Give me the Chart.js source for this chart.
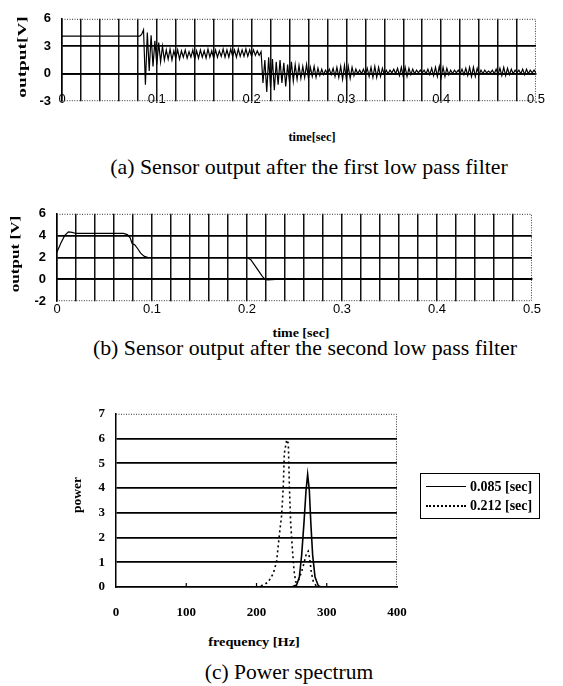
<!DOCTYPE html>
<html>
<head>
<meta charset="utf-8">
<script src="https://cdn.jsdelivr.net/npm/chart.js@4.4.1/dist/chart.umd.min.js"></script>
<style>
  body { margin: 0; background: #fff; }
  #page { position: relative; width: 563px; height: 686px; overflow: hidden; font-family: "Liberation Serif", "Times New Roman", serif; color: #000; }
  canvas { position: absolute; left: 0; }
  .lbl { position: absolute; white-space: nowrap; transform: translate(-50%, -50%); line-height: 1; z-index: 2; }
  .axt { font-weight: bold; font-size: 12px; }
  .cap { font-size: 21px; }
  #legende { position: absolute; left: 420px; top: 473px; width: 118px; border: 1px solid #000; padding: 3px 0; z-index: 2; }
  .ligne { display: flex; align-items: center; height: 19px; font-weight: bold; font-size: 14px; }
  .trait { width: 40px; margin: 0 4px 0 5px; border-top: 1.5px solid #000; }
  .trait.pointille { border-top: 2px dotted #000; }
</style>
</head>
<body>
<div id="page">
  <canvas id="graphA" width="563" height="120" style="top:0px"></canvas>
  <canvas id="graphB" width="563" height="125" style="top:195px"></canvas>
  <canvas id="graphC" width="563" height="230" style="top:395px"></canvas>

  <div class="lbl axt vert" style="left:22px; top:57px" data-w="82">output[V]</div>
  <div class="lbl axt" style="left:312px; top:137px" data-w="47">time[sec]</div>
  <div class="lbl cap" style="left:309px; top:167px" data-w="398">(a) Sensor output after the first low pass filter</div>

  <div class="lbl axt vert" style="left:15px; top:254px" data-w="77">output [V]</div>
  <div class="lbl axt" style="left:301px; top:333px" data-w="57">time [sec]</div>
  <div class="lbl cap" style="left:305px; top:348px" data-w="424">(b) Sensor output after the second low pass filter</div>

  <div class="lbl axt vert" style="left:77px; top:495px" data-w="36">power</div>
  <div class="lbl axt" style="left:254px; top:642px" data-w="92">frequency [Hz]</div>
  <div class="lbl cap" style="left:289px; top:672px" data-w="168">(c) Power spectrum</div>

  <div id="legende"></div>
</div>

<script>
// ---- valeurs ----

// (a) sortie après le premier filtre : un point toutes les 2 ms, de 0 à 0.5 s
const stepA = 0.002;
const outputA = [
  // 0 - 0.082 s : palier
  4.1, 4.1, 4.1, 4.1, 4.1, 4.1, 4.1, 4.1, 4.1, 4.1, 4.1, 4.1, 4.1, 4.1,
  4.1, 4.1, 4.1, 4.1, 4.1, 4.1, 4.1, 4.1, 4.1, 4.1, 4.1, 4.1, 4.1, 4.1,
  4.1, 4.1, 4.1, 4.1, 4.1, 4.1, 4.1, 4.1, 4.1, 4.1, 4.1, 4.1, 4.1, 4.1,
  // 0.084 - 0.108 s : choc
  4.3, 4.8, -1.2, 4.5, 0.3, 4.2, 0.8, 3.6, 1.0, 3.4, 1.3, 3.0, 1.5,
  // 0.110 - 0.210 s : oscillation autour de 2 V
  2.6, 1.6, 2.7, 1.5, 2.5, 1.7, 2.6, 1.6, 2.5, 1.8,
  2.6, 1.7, 2.4, 1.8, 2.6, 1.6, 2.5, 1.7, 2.6, 1.8,
  2.5, 1.7, 2.7, 1.8, 2.5, 1.7, 2.6, 1.8, 2.5, 1.9,
  2.7, 1.8, 2.6, 1.8, 2.7, 1.9, 2.6, 1.8, 2.7, 1.9,
  2.6, 1.9, 2.7, 1.9, 2.6, 1.9, 2.6, 2.0, 2.5, 2.0,
  2.4,
  // 0.212 - 0.280 s : deuxième choc
  -1.0, 1.5, -2.0, 1.8, -1.5, 1.6, -1.8, 1.3, -1.2, 1.5,
  -1.0, 1.2, -1.4, 1.0, -0.9, 1.3, -0.8, 1.0, -0.6, 0.9,
  -0.5, 0.8, -0.4, 1.0, -0.5, 0.7, -0.3, 0.8, -0.4, 0.6,
  -0.2, 0.5, -0.1, 0.4, 0.0,
  // 0.282 - 0.500 s : battements autour de 0
  0.5, -0.1, 0.6, -0.3, 0.7, -0.4, 0.8, -0.6, 0.9, -0.6,
  0.8, -0.5, 0.7, -0.2, 0.5, 0.0, 0.4, 0.0, 0.5, -0.1,
  0.6, -0.3, 0.7, -0.4, 0.8, -0.4, 0.7, -0.3, 0.6, -0.1,
  0.4, 0.0, 0.4, 0.1, 0.5, 0.0, 0.6, -0.2, 0.7, -0.3,
  0.7, -0.3, 0.6, -0.1, 0.5, 0.0, 0.4, 0.1, 0.4, 0.1,
  0.4, 0.0, 0.5, -0.1, 0.6, -0.2, 0.7, -0.3, 0.8, -0.4,
  0.7, -0.3, 0.6, -0.1, 0.4, 0.0, 0.4, 0.1, 0.4, 0.0,
  0.5, -0.1, 0.6, -0.2, 0.7, -0.3, 0.7, -0.3, 0.6, -0.1,
  0.4, 0.0, 0.4, 0.1, 0.3, 0.1, 0.4, 0.0, 0.5, -0.1,
  0.6, -0.2, 0.7, -0.2, 0.6, -0.1, 0.5, 0.0, 0.4, 0.1,
  0.4, 0.0, 0.5, -0.1, 0.5, 0.0, 0.4, 0.1, 0.4, 0.1
];

// (b) sortie après le second filtre
const timeB = [0, 0.004, 0.008, 0.012, 0.016, 0.02, 0.07, 0.074, 0.077, 0.079, 0.082, 0.085,
  0.088, 0.092, 0.096, 0.2, 0.204, 0.208, 0.212, 0.216, 0.219, 0.222, 0.23, 0.5];
const outputB = [2.5, 3.3, 4.0, 4.35, 4.3, 4.2, 4.2, 4.1, 3.8, 3.3, 3.15, 2.8,
  2.4, 2.1, 2.0, 2.0, 1.8, 1.3, 0.8, 0.3, 0.0, -0.05, 0.0, 0.0];

// (c) spectre de puissance
const seriesNames = ['0.085 [sec]', '0.212 [sec]'];
const freqSolid = [0, 250, 257, 261, 264.3, 267.6, 270.5, 272.8, 275.2, 277.5, 279.9, 283.3, 288, 292, 400];
const powerSolid = [0, 0, 0.08, 0.4, 1.3, 2.6, 3.9, 4.55, 3.9, 2.5, 1.3, 0.4, 0.05, 0, 0];
const freqDotted = [0, 200, 209.7, 216.8, 224, 228.7, 232.5, 235.8, 238.2, 239.6, 243, 245.3, 246.8,
  248.6, 251, 253.4, 255.8, 259, 264, 268, 271, 273.6, 276, 278, 281, 285, 290, 400];
const powerDotted = [0, 0, 0.08, 0.2, 0.55, 1.05, 2.1, 2.9, 4.1, 5.4, 5.95, 5.8, 4.1,
  2.6, 1.56, 0.66, 0.2, 0.2, 0.6, 1.0, 1.35, 1.45, 1.1, 0.6, 0.2, 0.05, 0, 0];

// graduations
const timeLabels = ['0', '0.1', '0.2', '0.3', '0.4', '0.5'];
const yTicksA = [-3, 0, 3, 6];
const yTicksB = [-2, 0, 2, 4, 6];
const yTicksC = [0, 1, 2, 3, 4, 5, 6, 7];
const freqTicks = [0, 100, 200, 300, 400];

const TRANSPARENT = 'rgba(0,0,0,0)';
const policeSans = { family: '"Liberation Sans", Arial, sans-serif', size: 13, weight: 'bold' };
const policeSerif = { family: '"Liberation Serif", "Times New Roman", serif', size: 13, weight: 'bold' };

// Cadre pointillé en haut, à droite (et en bas si demandé)
// + petites graduations vers l'intérieur sur l'axe des fréquences
const cadrePointille = {
  id: 'cadrePointille',
  beforeDatasetsDraw(chart, args, opts) {
    const { ctx, chartArea: a } = chart;
    ctx.save();
    ctx.strokeStyle = '#333';
    ctx.lineWidth = 1;
    ctx.setLineDash([1, 1.5]);
    ctx.beginPath();
    ctx.moveTo(a.left, a.top + 0.5);
    ctx.lineTo(a.right - 0.5, a.top + 0.5);
    ctx.lineTo(a.right - 0.5, a.bottom - 0.5);
    if (opts.bottom) ctx.lineTo(a.left, a.bottom - 0.5);
    ctx.stroke();
    if (opts.innerTicks) {
      ctx.setLineDash([]);
      ctx.strokeStyle = '#000';
      ctx.lineWidth = 1.2;
      ctx.beginPath();
      opts.innerTicks.forEach(v => {
        const x = chart.scales.x.getPixelForValue(v);
        ctx.moveTo(x, a.bottom);
        ctx.lineTo(x, a.bottom - 4);
      });
      ctx.stroke();
    }
    ctx.restore();
  }
};

// Graphique temporel (a) et (b)
function graphiqueTemps(id, points, yTicks, left, padding, labelPad) {
  const yMin = yTicks[0];
  const yMax = yTicks[yTicks.length - 1];
  return new Chart(document.getElementById(id), {
    type: 'line',
    data: {
      datasets: [{ data: points, borderColor: '#000', borderWidth: 1.2, pointRadius: 0, tension: 0 }]
    },
    options: {
      responsive: false,
      animation: false,
      layout: { padding },
      plugins: { legend: { display: false }, tooltip: { enabled: false }, cadrePointille: { bottom: true } },
      scales: {
        x: {
          type: 'linear', min: 0, max: 0.5, position: { y: 0 },
          ticks: {
            stepSize: 0.02, autoSkip: false, maxRotation: 0, minRotation: 0,
            padding: labelPad, color: '#000', font: { ...policeSans, weight: 'normal' },
            callback: (v, i) => (i % 5 === 0 ? timeLabels[i / 5] : '')
          },
          grid: { color: c => (c.tick && c.tick.value > 0.499 ? TRANSPARENT : '#111'), lineWidth: 1.5, drawTicks: false },
          border: { color: '#000', width: 1.8 }
        },
        y: {
          min: yMin, max: yMax,
          afterBuildTicks: s => { s.ticks = yTicks.map(v => ({ value: v })); },
          afterFit: s => { s.width = left; },
          ticks: { padding: 11, color: '#000', font: policeSans },
          grid: { color: c => (c.tick.value === yMin || c.tick.value === yMax ? TRANSPARENT : '#000'), lineWidth: 1.8, drawTicks: false },
          border: { color: '#000', width: 1.5 }
        }
      }
    },
    plugins: [cadrePointille]
  });
}

graphiqueTemps('graphA', outputA.map((v, i) => ({ x: i * stepA, y: v })), yTicksA, 62,
  { top: 13, right: 8, bottom: 12, left: 0 }, 18);

graphiqueTemps('graphB', timeB.map((t, i) => ({ x: t, y: outputB[i] })), yTicksB, 57,
  { top: 12, right: 13, bottom: 13, left: 0 }, 22);

// (c) spectre
new Chart(document.getElementById('graphC'), {
  type: 'line',
  data: {
    datasets: [
      { label: seriesNames[0], data: freqSolid.map((f, i) => ({ x: f, y: powerSolid[i] })),
        borderColor: '#000', borderWidth: 1.6, pointRadius: 0, tension: 0 },
      { label: seriesNames[1], data: freqDotted.map((f, i) => ({ x: f, y: powerDotted[i] })),
        borderColor: '#000', borderWidth: 1.6, borderDash: [2, 3], pointRadius: 0, tension: 0 }
    ]
  },
  options: {
    responsive: false,
    animation: false,
    layout: { padding: { top: 11, right: 166, bottom: 0, left: 0 } },
    plugins: {
      legend: { display: false }, tooltip: { enabled: false },
      cadrePointille: { bottom: false, innerTicks: freqTicks.slice(1, -1) }
    },
    scales: {
      x: {
        type: 'linear', min: 0, max: 400,
        afterBuildTicks: s => { s.ticks = freqTicks.map(v => ({ value: v })); },
        afterFit: s => { s.height = 38; },
        ticks: { padding: 10, maxRotation: 0, color: '#000', font: policeSerif },
        grid: { display: false },
        border: { color: '#000', width: 1.8 }
      },
      y: {
        min: 0, max: 7,
        afterBuildTicks: s => { s.ticks = yTicksC.map(v => ({ value: v })); },
        afterFit: s => { s.width = 116; },
        ticks: { padding: 11, color: '#000', font: policeSerif },
        grid: { color: c => (c.tick.value === 0 || c.tick.value === 7 ? TRANSPARENT : '#000'), lineWidth: 1.8, drawTicks: false },
        border: { color: '#000', width: 1.5 }
      }
    }
  },
  plugins: [cadrePointille]
});

// Légende du spectre
const legende = document.getElementById('legende');
seriesNames.forEach((nom, i) => {
  const ligne = document.createElement('div');
  ligne.className = 'ligne';
  ligne.innerHTML = `<span class="trait${i === 1 ? ' pointille' : ''}"></span><span>${nom}</span>`;
  legende.appendChild(ligne);
});

// Ajuster la largeur des textes à celle de la figure
document.querySelectorAll('[data-w]').forEach(el => {
  const k = Number(el.dataset.w) / el.offsetWidth;
  const rot = el.classList.contains('vert') ? ' rotate(-90deg)' : '';
  el.style.transform = `translate(-50%, -50%)${rot} scaleX(${k.toFixed(3)})`;
});
</script>
</body>
</html>
